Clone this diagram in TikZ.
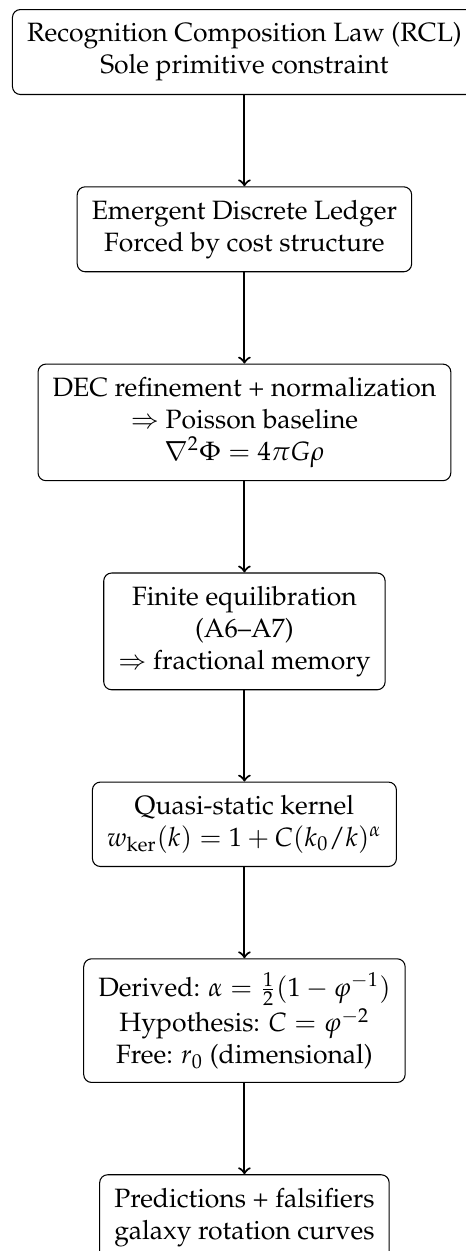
\documentclass[tikz,border=0pt]{standalone}
\usepackage[T1]{fontenc}
\usepackage{amsmath,amssymb}
\usepackage{mathpazo}
\usepackage{tikz}
\usetikzlibrary{positioning, calc}
\tikzset{
	stage/.style={rectangle, draw=black, rounded corners=3pt, align=center, inner xsep=5.5pt, inner ysep=5pt},
	flow_arrow/.style={->, thick}
}

\begin{document}
\begin{tikzpicture}[node distance=1.21cm]
	\node[stage] (rcl) {Recognition Composition Law (RCL)\\Sole primitive constraint};
	\node[stage, below=of rcl] (ledger) {Emergent Discrete Ledger\\Forced by cost structure};
	\node[stage, below=of ledger] (poisson) {DEC refinement + normalization\\$\Rightarrow$ Poisson baseline\\$\nabla^2\Phi = 4\pi G\rho$};
	\node[stage, below=of poisson] (memory) {Finite equilibration\\(A6--A7)\\$\Rightarrow$ fractional memory};
	\node[stage, below=of memory] (kernel) {Quasi-static kernel\\$w_{\text{ker}}(k) = 1 + C(k_0/k)^{\alpha}$};
	\node[stage, below=of kernel] (params) {Derived: $\alpha = \tfrac{1}{2}(1-\varphi^{-1})$\\Hypothesis: $C = \varphi^{-2}$\\Free: $r_0$ (dimensional)};
	\node[stage, below=of params] (predict) {Predictions + falsifiers\\galaxy rotation curves};
	\draw[flow_arrow] (rcl) -- (ledger);
	\draw[flow_arrow] (ledger) -- (poisson);
	\draw[flow_arrow] (poisson) -- (memory);
	\draw[flow_arrow] (memory) -- (kernel);
	\draw[flow_arrow] (kernel) -- (params);
	\draw[flow_arrow] (params) -- (predict);
	% page window: the chart runs past the right and bottom edges
	\pgfresetboundingbox
	\path[use as bounding box] ($(rcl.north west)+(-4.5pt,3.4pt)$) rectangle ++(175.8pt,-472pt);
\end{tikzpicture}
\end{document}
